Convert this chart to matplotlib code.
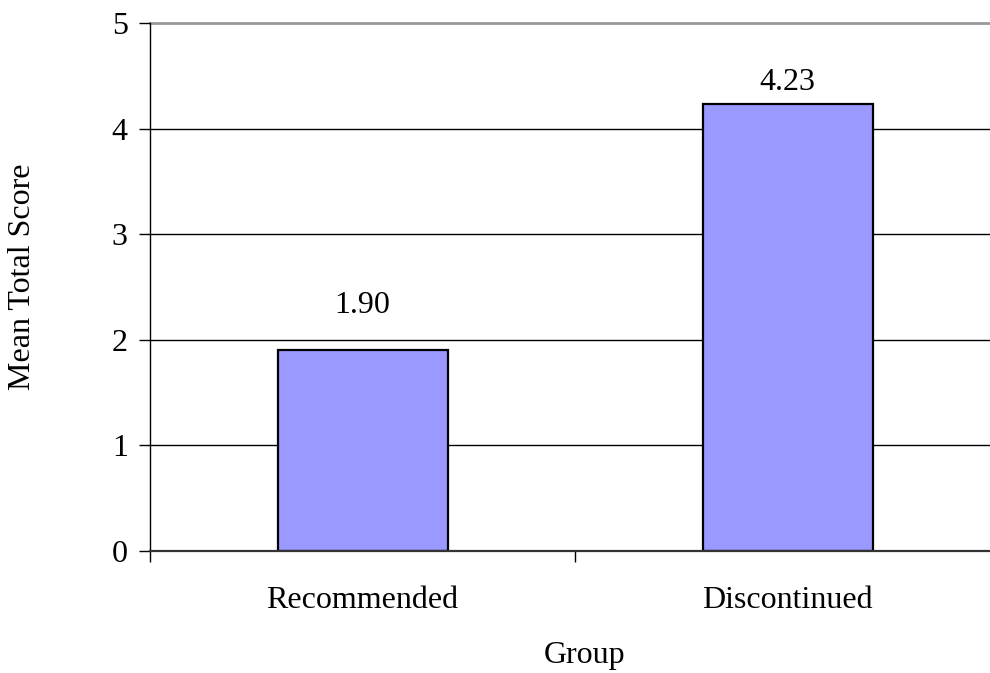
import matplotlib
matplotlib.use("Agg")
import matplotlib.pyplot as plt

categories = ["Recommended", "Discontinued"]
values = [1.90, 4.23]
value_labels = ["1.90", "4.23"]
yticks = [0, 1, 2, 3, 4, 5]

plt.rcParams['font.family'] = ['Liberation Serif', 'DejaVu Serif']
FS = 23

W, H = 990, 673
fig = plt.figure(figsize=(W / 100, H / 100), dpi=100)
left, right, top, bottom = 150, 1000, 23, 551
ax = fig.add_axes([left / W, (H - bottom) / H, (right - left) / W, (bottom - top) / H])

x = [i + 0.5 for i in range(len(categories))]
ax.set_xlim(0, len(categories))
ax.set_ylim(0, 5)

for yv in yticks[1:-1]:
    ax.axhline(yv, color='black', lw=1.0, zorder=1)
ax.axhline(5, color='#999999', lw=2.0, zorder=1, clip_on=False)

ax.bar(x, values, width=0.4, color='#9999FF', edgecolor='black', linewidth=1.6, zorder=3)

label_gaps = [37, 14]  # pixel gap between bar top and label baseline
for xi, v, lab, g in zip(x, values, value_labels, label_gaps):
    ax.annotate(lab, (xi, v), xytext=(0, g), textcoords='offset pixels',
                ha='center', va='baseline', fontsize=FS)

for s in ['top', 'right']:
    ax.spines[s].set_visible(False)
ax.spines['left'].set_color('black')
ax.spines['left'].set_linewidth(1.0)
ax.spines['bottom'].set_color('#333333')
ax.spines['bottom'].set_linewidth(1.6)
ax.spines['bottom'].set_zorder(4)

ax.set_yticks(yticks)
ax.set_yticklabels([str(t) for t in yticks], fontsize=FS)
ax.tick_params(axis='y', direction='out', length=8, width=1, pad=8)

ax.set_xticks([0, 1, 2])
ax.set_xticklabels([])
ax.tick_params(axis='x', direction='out', length=8, width=1)
for xi, c in zip(x, categories):
    ax.text(xi, 1 - (601 - top) / (bottom - top), c, transform=ax.get_xaxis_transform(),
            ha='center', va='center', fontsize=FS)

fig.text(585 / W, 1 - 656 / H, "Group", ha='center', va='center', fontsize=FS)
fig.text(23 / W, 1 - 277 / H, "Mean Total Score", ha='center', va='center', rotation=90, fontsize=FS)

fig.savefig("out.png", dpi=100)
